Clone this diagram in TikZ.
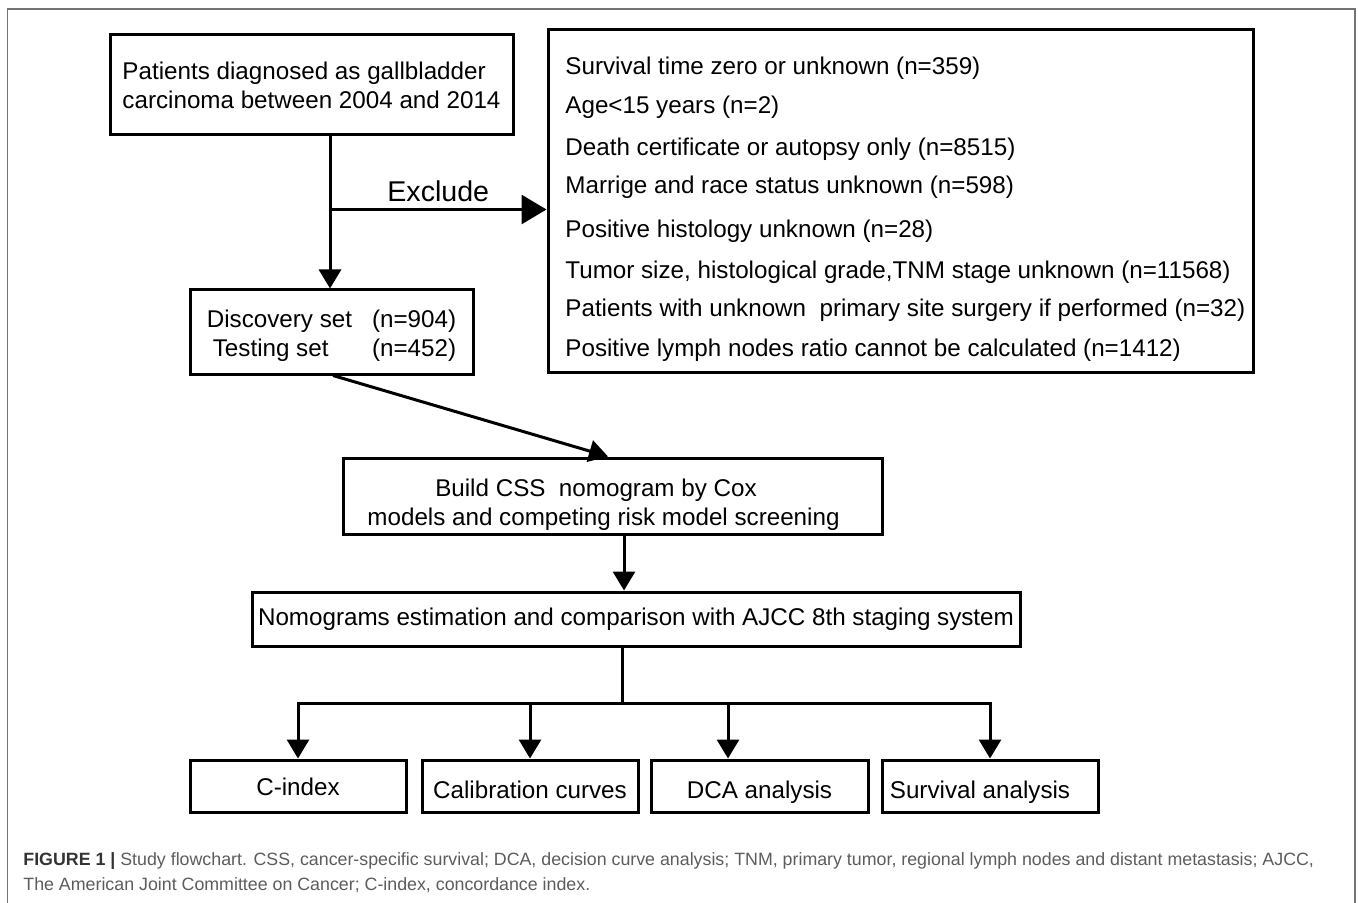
\documentclass[tikz,border=0pt]{standalone}
\usepackage{fontspec}
\setmainfont{Liberation Sans}
\usetikzlibrary{calc, arrows.meta}
\definecolor{capgray}{gray}{0.36}
\definecolor{framegray}{gray}{0.45}

\begin{document}
\begin{tikzpicture}[x=0.5pt, y=-0.5pt]

    \tikzstyle{box}=[draw=black, line width=1.5pt, inner sep=0pt, align=center, font=\fontsize{12.1}{14.5}\selectfont];
    \tikzstyle{endbox}=[box, minimum width=108pt, minimum height=26pt, text height=12pt, text depth=0pt];
    \tikzstyle{item}=[anchor=base west, inner sep=0pt, yshift=-4.5pt, font=\fontsize{12.1}{14.5}\selectfont];
    \tikzstyle{arr}=[line width=1.5pt, -{Triangle[width=11pt, length=9.5pt]}];
    \tikzstyle{bigarr}=[line width=1.5pt, -{Triangle[width=14.5pt, length=12.5pt]}];
    \tikzstyle{caption}=[anchor=west, inner sep=0pt, text=capgray, font=\fontsize{8.9}{11}\selectfont];

    \useasboundingbox (0,0) rectangle (1358,903);
    \draw[framegray, line width=0.8pt] (7.5,960) -- (7.5,9) -- (1355,9) -- (1355,960);

    \node[box, minimum width=201.5pt, minimum height=50pt] (0) at (311.5,85) [align=left] {Patients diagnosed as gallbladder\\carcinoma between 2004 and 2014};
    \node[box, minimum width=352.5pt, minimum height=171pt] (1) at ($(0)+(589,116)$) {};
    \node[box, minimum width=141.5pt, minimum height=42pt, text height=20pt, text depth=10pt] (2) at ($(0)+(20,247)$) {\begin{tabular}{@{}l@{\hspace{10pt}}l@{}}Discovery set & (n=904)\\\hspace{3pt}Testing set & (n=452)\end{tabular}};
    \node[box, minimum width=269.5pt, minimum height=38pt, text height=29pt, text depth=0pt] (3) at ($(2)+(281,164)$) {Build CSS\ \ nomogram by Cox\hspace*{16.5pt}\\models and competing risk model screening\hspace*{9pt}};
    \node[box, minimum width=384pt, minimum height=27pt] (4) at ($(3)+(23.5,123)$) {Nomograms estimation and comparison with AJCC 8th staging system};

    \node[endbox, text height=9pt] (5) at (298,786) {C-index};
    \node[endbox] (6) at ($(5)+(232,0)$) {Calibration curves};
    \node[endbox, minimum width=108.5pt] (7) at ($(6)+(229.5,0)$) {DCA analysis};
    \node[endbox] (8) at ($(7)+(230.5,0)$) {Survival analysis\hspace*{10pt}};

    % exclusion criteria
    \foreach \y/\t [count=\i] in {66/{Survival time zero or unknown (n=359)},
                                  105/{Age<15 years (n=2)},
                                  147/{Death certificate or autopsy only (n=8515)},
                                  185/{Marrige and race status unknown (n=598)},
                                  229/{Positive histology unknown (n=28)},
                                  270/{Tumor size, histological grade,TNM stage unknown (n=11568)},
                                  307/{Patients with unknown\ \ primary site surgery if performed (n=32)},
                                  348/{Positive lymph nodes ratio cannot be calculated (n=1412)}}
        \node[item] (l\i) at (565,\y) {\t};

    \coordinate (j) at ($(0.south)+(18.5,73)$);
    \coordinate (b) at ($(4.south)+(-14,56)$);

    \draw[arr] ($(0.south)+(18.5,0)$) -- ($(2.north)+(-1.5,0)$);
    \draw[bigarr] (j) -- (j -| 1.west) node[midway, above=0pt, font=\fontsize{14.3}{16}\selectfont] {Exclude};
    \draw[arr] ($(2.south)+(1.5,0)$) -- ($(3.north)+(-4.5,0)$);
    \draw[arr] ($(3.south)+(11.5,0)$) -- ($(4.north)+(-12,0)$);
    \draw[line width=1.5pt] ($(4.south)+(-14,0)$) -- (b);
    \draw[line width=1.5pt, line cap=rect] (5.north |- b) -- (8.north |- b);
    \foreach \n/\dx in {5/0, 6/0, 7/-31.5, 8/0}
        \draw[arr] ($(\n.north |- b)+(\dx,0)$) -- ($(\n.north)+(\dx,0)$);

    \node[caption] (c1) at (23,861) {\textcolor{black!80}{\textbf{FIGURE 1 |}} Study flowchart. CSS, cancer-specific survival; DCA, decision curve analysis; TNM, primary tumor, regional lymph nodes and distant metastasis; AJCC,};
    \node[caption] (c2) at (23,885) {The American Joint Committee on Cancer; C-index, concordance index.};

\end{tikzpicture}
\end{document}
